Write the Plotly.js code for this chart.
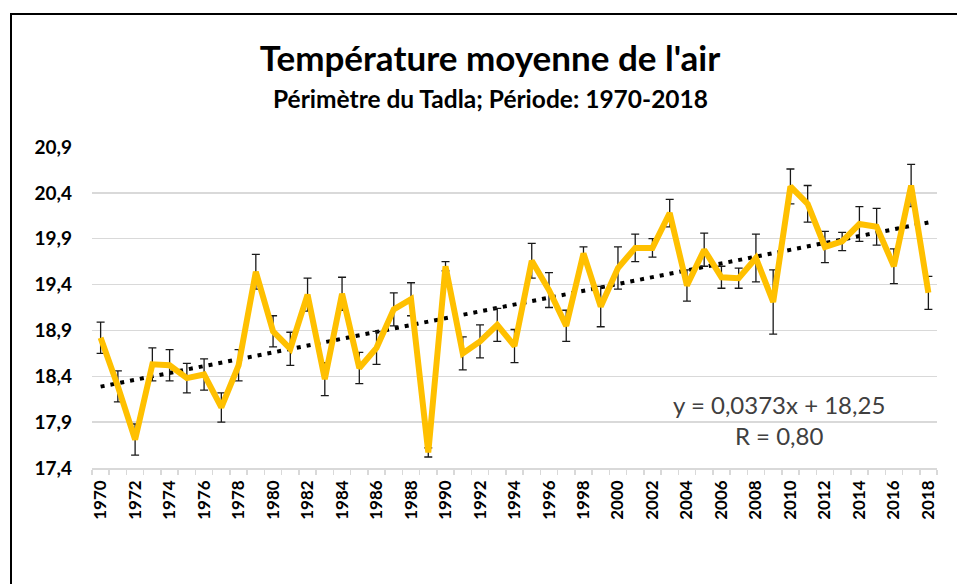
<!DOCTYPE html>
<html>
<head>
<meta charset="utf-8">
<script src="https://cdn.plot.ly/plotly-3.0.1.min.js"></script>
<style>
  html, body { margin: 0; padding: 0; background: #fff; }
  #wrap { position: relative; width: 957px; height: 584px; overflow: hidden; }
  #chart { width: 957px; height: 584px; }
  #frame { position: absolute; left: 10px; top: 13px; width: 980px; height: 600px;
           border: 2px solid #000; box-sizing: border-box; pointer-events: none; }
</style>
</head>
<body>
<div id="wrap">
  <div id="chart"></div>
  <div id="frame"></div>
</div>
<script>
// ---- data ----
const years = [1970,1971,1972,1973,1974,1975,1976,1977,1978,1979,
               1980,1981,1982,1983,1984,1985,1986,1987,1988,1989,
               1990,1991,1992,1993,1994,1995,1996,1997,1998,1999,
               2000,2001,2002,2003,2004,2005,2006,2007,2008,2009,
               2010,2011,2012,2013,2014,2015,2016,2017,2018];
const temperature = [18.82,18.29,17.71,18.53,18.52,18.38,18.42,18.06,18.52,19.54,
                     18.89,18.70,19.29,18.37,19.30,18.49,18.71,19.13,19.24,17.57,
                     19.60,18.65,18.78,18.96,18.73,19.66,19.34,18.95,19.74,19.16,
                     19.58,19.80,19.80,20.18,19.39,19.78,19.48,19.47,19.69,19.21,
                     20.47,20.28,19.81,19.87,20.06,20.03,19.60,20.48,19.31];
const errors = [0.17,0.17,0.17,0.18,0.17,0.16,0.17,0.16,0.17,0.19,
                0.17,0.18,0.18,0.18,0.18,0.17,0.18,0.18,0.18,0.05,
                0.05,0.18,0.18,0.18,0.18,0.19,0.19,0.17,0.07,0.22,
                0.23,0.15,0.10,0.15,0.17,0.18,0.12,0.11,0.26,0.35,
                0.19,0.20,0.17,0.10,0.19,0.20,0.19,0.23,0.18];
// trendline as printed on the chart: y = 0,0373x + 18,25 (x = 1 for 1970)
const trendSlope = 0.0373;
const trendIntercept = 18.25;
const trendR = "0,80";
const yTicks = [17.4,17.9,18.4,18.9,19.4,19.9,20.4,20.9];
const xTicks = [1970,1972,1974,1976,1978,1980,1982,1984,1986,1988,1990,1992,1994,
                1996,1998,2000,2002,2004,2006,2008,2010,2012,2014,2016,2018];
const titleText = "Température moyenne de l'air";
const subtitleText = "Périmètre du Tadla; Période: 1970-2018";

const trendX = [years[0], years[years.length-1]];
const trendY = trendX.map(y => trendSlope * (y - years[0] + 1) + trendIntercept);

const FONT = "Lato, 'Open Sans', sans-serif";

const traces = [
  {
    x: trendX, y: trendY, type: 'scatter', mode: 'lines',
    line: { color: '#000000', width: 4, dash: '4px,6px' },
    hoverinfo: 'skip', showlegend: false
  },
  {
    x: years, y: temperature, type: 'scatter', mode: 'lines',
    line: { color: '#FFC000', width: 6 },
    error_y: { type: 'data', array: errors, visible: true,
               color: '#1a1a1a', thickness: 1.3, width: 4 },
    showlegend: false
  }
];

const layout = {
  width: 957, height: 584,
  margin: { l: 92, r: 20, t: 147, b: 116 },
  paper_bgcolor: '#ffffff', plot_bgcolor: '#ffffff',
  separators: ', ',
  showlegend: false,
  font: { family: FONT, color: '#000' },
  title: {
    text: titleText,
    font: { family: FONT, size: 35, weight: 'bold', color: '#000' },
    xref: 'container', x: 490/957, xanchor: 'center',
    yref: 'container', y: 1 - 59/584, yanchor: 'middle'
  },
  xaxis: {
    range: [1969.5, 2018.5],
    tickmode: 'array', tickvals: xTicks, ticktext: xTicks.map(String),
    tickangle: -90,
    tickfont: { family: FONT, size: 17, weight: 'bold', color: '#000' },
    showgrid: false, zeroline: false,
    showline: true, linecolor: '#d9d9d9', linewidth: 1.5,
    ticks: '', ticklabelstandoff: 4,
    minor: { ticks: 'outside', tick0: 1969.5, dtick: 1, ticklen: 5,
             tickcolor: '#d9d9d9', tickwidth: 1.5, showgrid: false }
  },
  yaxis: {
    range: [17.4, 20.9],
    tickmode: 'array', tickvals: yTicks, ticktext: yTicks.map(v => v.toFixed(1).replace('.', ',')),
    tickfont: { family: FONT, size: 19, weight: 'bold', color: '#000' },
    showgrid: true, gridcolor: '#d9d9d9', gridwidth: 1.5,
    zeroline: false, showline: false, ticks: '',
    ticklabelstandoff: 19
  },
  annotations: [
    {
      text: subtitleText, showarrow: false,
      xref: 'paper', yref: 'paper',
      x: (490 - 92) / 845, y: 1 + (147 - 98) / 321,
      xanchor: 'center', yanchor: 'middle',
      font: { family: FONT, size: 24.5, weight: 'bold', color: '#000' }
    },
    {
      text: 'y = ' + String(trendSlope).replace('.', ',') + 'x + ' + String(trendIntercept).replace('.', ',') +
            '<br>R = ' + trendR,
      showarrow: false, align: 'center',
      xref: 'paper', yref: 'paper',
      x: (779 - 92) / 845, y: (468 - 420) / 321,
      xanchor: 'center', yanchor: 'middle',
      font: { family: FONT, size: 24, color: '#404040' }
    }
  ]
};

Plotly.newPlot('chart', traces, layout, { displayModeBar: false, staticPlot: true });
</script>
</body>
</html>
